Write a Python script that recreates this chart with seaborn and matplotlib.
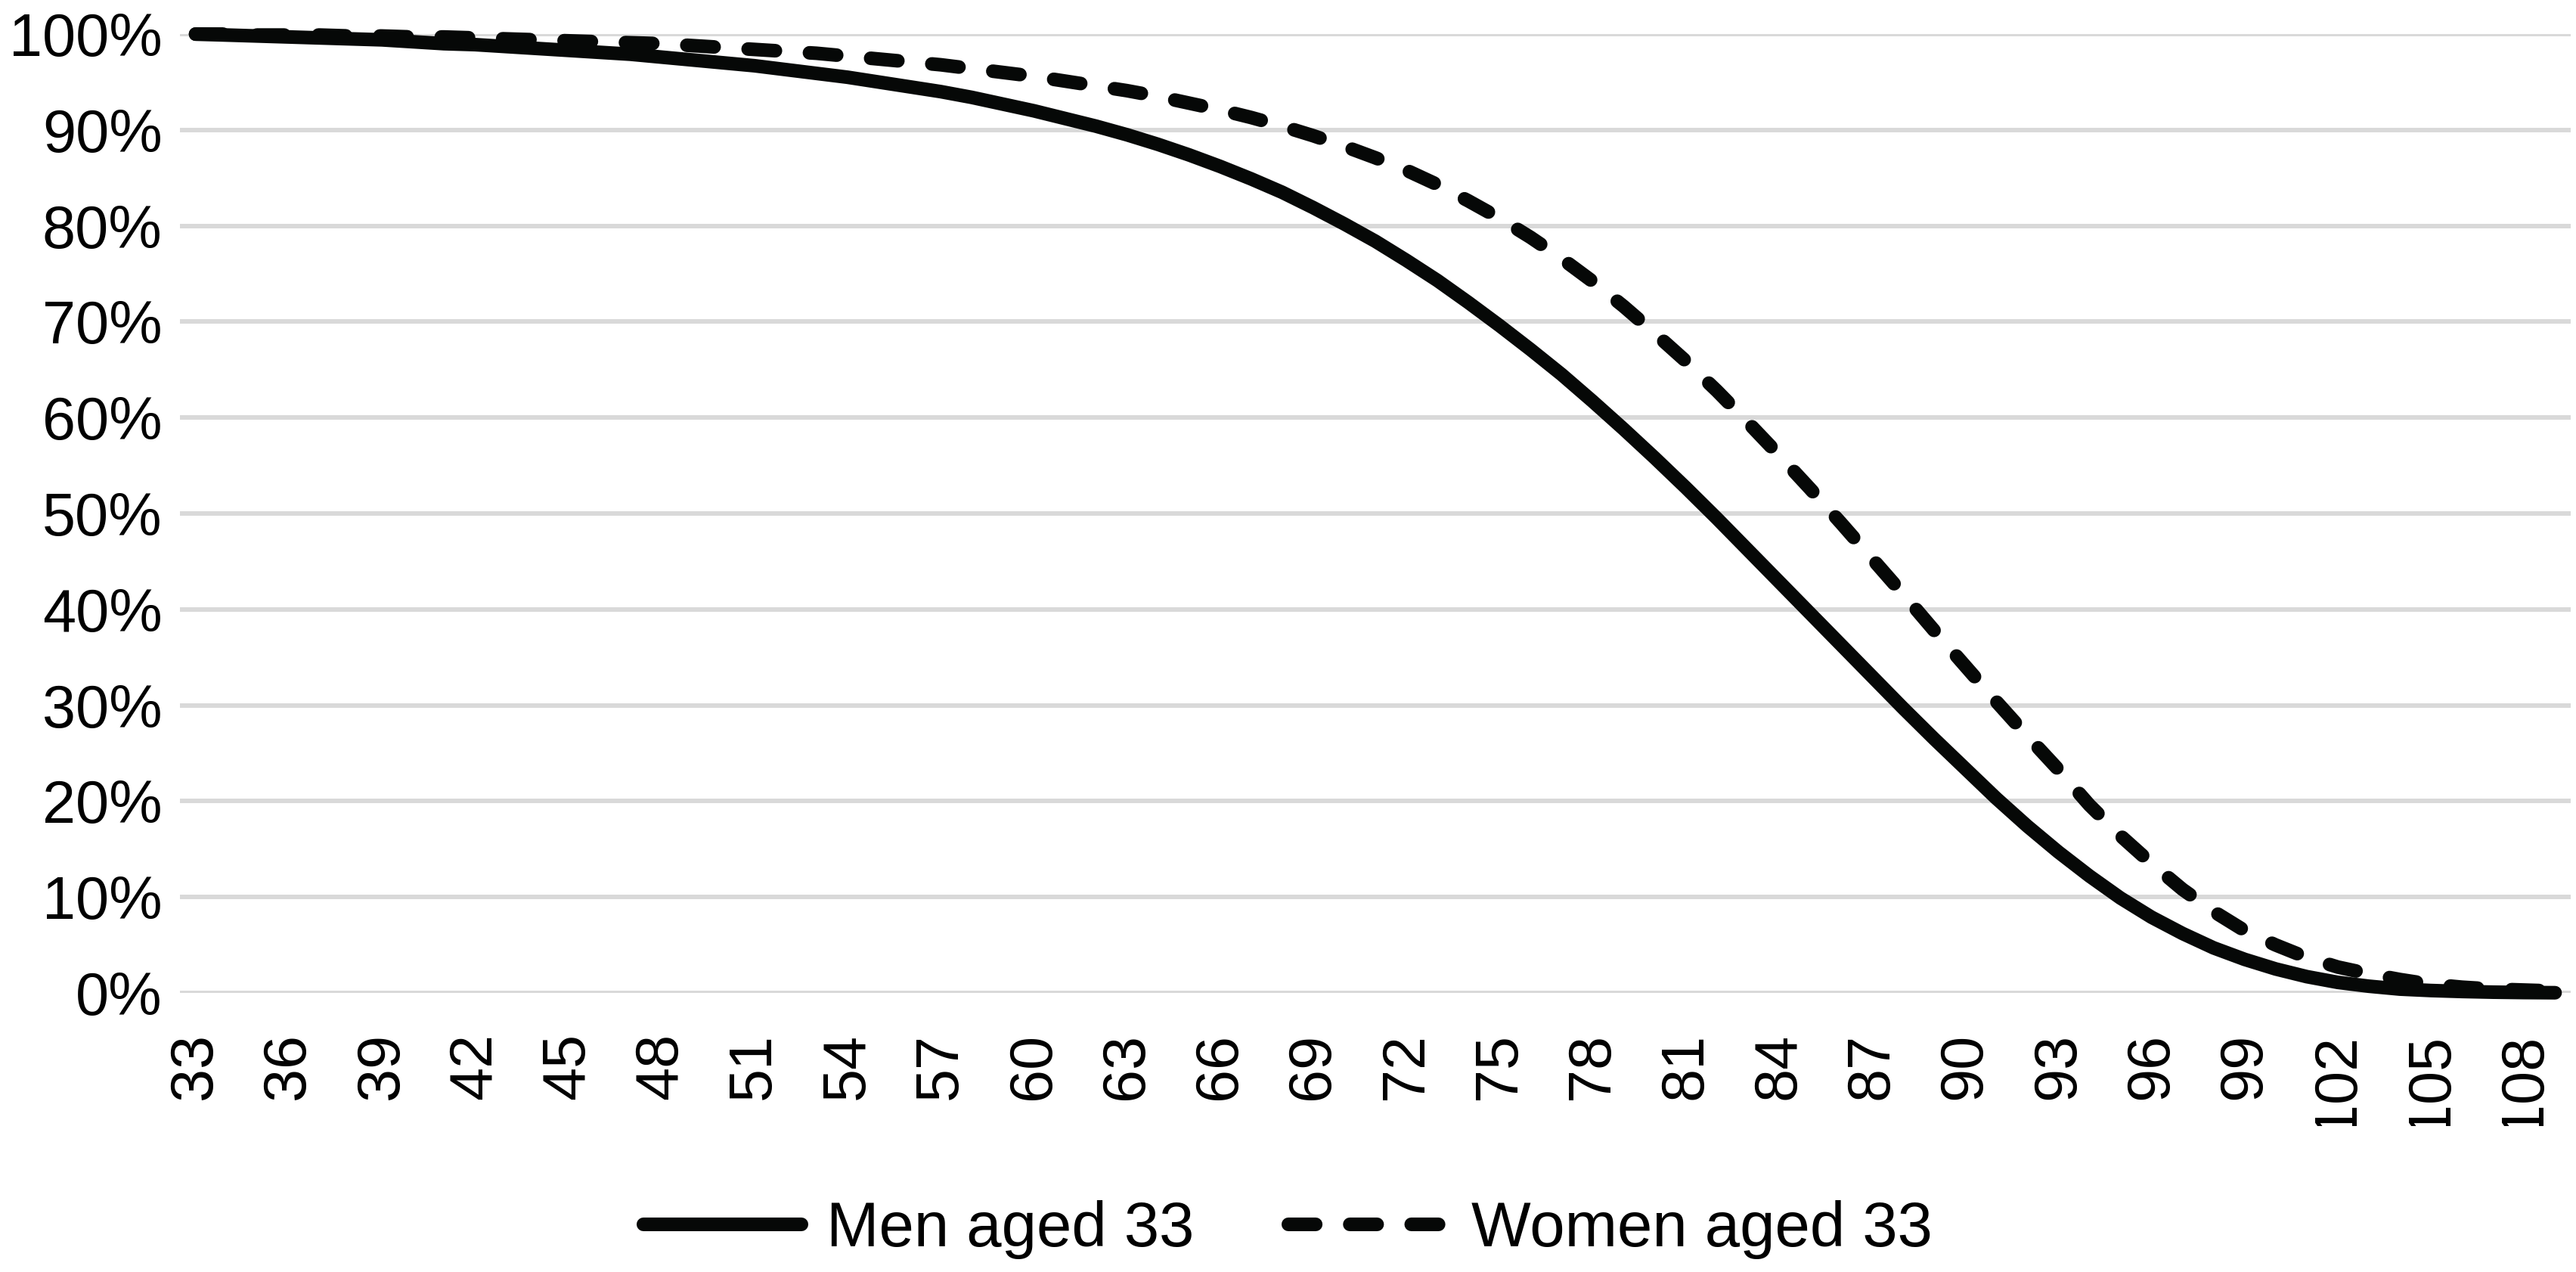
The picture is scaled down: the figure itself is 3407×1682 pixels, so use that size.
import matplotlib
matplotlib.use("Agg")
import matplotlib.pyplot as plt
from matplotlib.ticker import PercentFormatter, MultipleLocator
from matplotlib.patches import Rectangle
import seaborn as sns
import pandas as pd

# survival probability (%) from age 33
ages = list(range(33, 110))

men = [100.0, 99.9, 99.8, 99.7, 99.6, 99.5, 99.4, 99.2, 99.0, 98.9,
       98.7, 98.5, 98.3, 98.1, 97.9, 97.6, 97.3, 97.0, 96.7, 96.3,
       95.9, 95.5, 95.0, 94.5, 94.0, 93.4, 92.7, 92.0, 91.2, 90.4,
       89.5, 88.5, 87.4, 86.2, 84.9, 83.5, 81.9, 80.2, 78.4, 76.4,
       74.3, 72.0, 69.6, 67.1, 64.5, 61.7, 58.8, 55.8, 52.7, 49.5,
       46.2, 42.9, 39.6, 36.3, 33.0, 29.7, 26.5, 23.4, 20.3, 17.4,
       14.7, 12.2, 9.9, 7.9, 6.2, 4.7, 3.5, 2.5, 1.7, 1.1,
       0.7, 0.4, 0.25, 0.15, 0.08, 0.04, 0.02]

women = [100.0, 100.0, 99.9, 99.9, 99.9, 99.8, 99.8, 99.7, 99.7, 99.6,
         99.5, 99.4, 99.3, 99.2, 99.1, 99.0, 98.8, 98.6, 98.4, 98.2,
         98.0, 97.7, 97.4, 97.1, 96.8, 96.4, 96.0, 95.6, 95.1, 94.6,
         94.1, 93.5, 92.8, 92.1, 91.3, 90.4, 89.4, 88.3, 87.1, 85.8,
         84.3, 82.6, 80.8, 78.8, 76.6, 74.2, 71.6, 68.8, 65.9, 62.8,
         59.5, 56.1, 52.6, 49.0, 45.3, 41.6, 37.8, 34.1, 30.4, 26.8,
         23.3, 19.6, 16.4, 13.5, 10.8, 8.5, 6.5, 5.0, 3.7, 2.7,
         2.0, 1.4, 0.9, 0.6, 0.4, 0.3, 0.2]

labels = ["Men aged 33", "Women aged 33"]

df = pd.DataFrame({"age": ages, "men": men, "women": women})

sns.set_theme(style="white")
plt.rcParams["font.family"] = ["Liberation Sans", "DejaVu Sans"]

fig = plt.figure(figsize=(34.07, 16.82), dpi=100)
ax = fig.add_axes([0.0699, 0.2194, 0.928, 0.7538])

ax.yaxis.grid(True, color="#D9D9D9", linewidth=4.3)
ax.set_axisbelow(True)

sns.lineplot(data=df, x="age", y="men", ax=ax, color="#060807", linewidth=13,
             label=labels[0], clip_on=False, solid_capstyle="round")
sns.lineplot(data=df, x="age", y="women", ax=ax, color="#060807", linewidth=13,
             label=labels[1], clip_on=False, linestyle=(0, (2.0, 2.5)),
             dash_capstyle="round")

ax.set_xlim(32.5, 109.5)
ax.set_ylim(0, 100)
ax.set_xticks(range(33, 110, 3))
ax.yaxis.set_major_locator(MultipleLocator(10))
ax.yaxis.set_major_formatter(PercentFormatter(100, decimals=0))
ax.set_xlabel("")
ax.set_ylabel("")
for s in ax.spines.values():
    s.set_visible(False)
ax.tick_params(axis="both", length=0, labelsize=57, colors="black")
ax.tick_params(axis="y", pad=17)
ax.tick_params(axis="x", labelrotation=90, pad=38)

# the long age labels are cut off at the bottom in the original
clip = Rectangle((0, 0.115), 1, 0.9, transform=fig.transFigure, facecolor="none")
for t in ax.get_xticklabels():
    t.set_clip_path(clip)

leg = ax.legend(loc="center", bbox_to_anchor=(0.5, 0.033),
                bbox_transform=fig.transFigure, ncol=2, frameon=False,
                fontsize=60, handlelength=2.5, handletextpad=0.4,
                columnspacing=1.5)
for t in leg.get_texts():
    t.set_color("black")

fig.savefig("out.png", dpi=100)
